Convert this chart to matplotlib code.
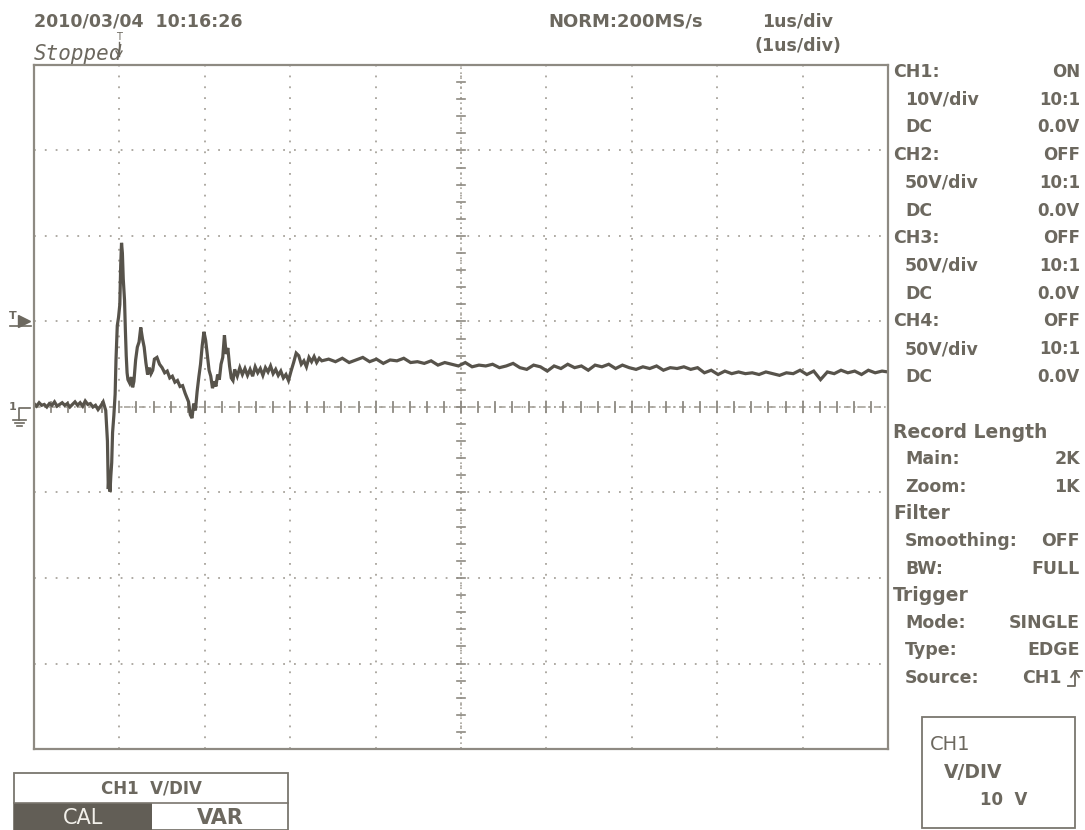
import numpy as np
import matplotlib
matplotlib.use("Agg")
from matplotlib import pyplot as plt
from matplotlib.lines import Line2D
from matplotlib.patches import Rectangle

# CH1 trace, time in us (1 us/div), voltage in V (10 V/div)
t_us = [0.00, 0.03, 0.06, 0.09, 0.12, 0.15, 0.18, 0.21, 0.24, 0.27, 0.30, 0.33, 0.36, 0.39, 0.42,
        0.45, 0.48, 0.51, 0.54, 0.57, 0.60, 0.63, 0.66, 0.69, 0.72, 0.75, 0.78, 0.81, 0.84,
        0.86, 0.87, 0.88, 0.89, 0.90, 0.91, 0.92, 0.935, 0.95, 0.96, 0.975, 0.99, 1.005, 1.015,
        1.025, 1.035, 1.045, 1.06, 1.07, 1.08, 1.09, 1.10, 1.12, 1.14, 1.155, 1.17, 1.19, 1.21,
        1.23, 1.25, 1.27, 1.29, 1.31, 1.33, 1.35, 1.37, 1.39, 1.41, 1.44, 1.47, 1.50, 1.53, 1.56,
        1.59, 1.62, 1.65, 1.68, 1.71, 1.74, 1.77, 1.79, 1.81, 1.83, 1.85, 1.87, 1.89, 1.91, 1.93,
        1.95, 1.97, 1.99, 2.01, 2.03, 2.05, 2.07, 2.09, 2.11, 2.13, 2.15, 2.17, 2.19, 2.21, 2.23,
        2.25, 2.27, 2.29, 2.31, 2.33, 2.35, 2.38, 2.41, 2.44, 2.47, 2.50, 2.53, 2.56, 2.59, 2.62,
        2.65, 2.68, 2.71, 2.74, 2.77, 2.80, 2.83, 2.86, 2.89, 2.92, 2.95, 2.98, 3.01, 3.04, 3.07,
        3.10, 3.13, 3.16, 3.19, 3.22, 3.25, 3.28, 3.31, 3.34, 3.37,
        3.45, 3.53, 3.61, 3.69, 3.77, 3.85, 3.93, 4.01, 4.09, 4.17, 4.25, 4.33, 4.41, 4.49, 4.57,
        4.65, 4.73, 4.81, 4.89, 4.97, 5.05, 5.13, 5.21, 5.29, 5.37, 5.45, 5.53, 5.61, 5.69, 5.77,
        5.85, 5.93, 6.01, 6.09, 6.17, 6.25, 6.33, 6.41, 6.49, 6.57, 6.65, 6.73, 6.81, 6.89, 6.97,
        7.05, 7.13, 7.21, 7.29, 7.37, 7.45, 7.53, 7.61, 7.69, 7.77, 7.85, 7.93, 8.01, 8.09, 8.17,
        8.25, 8.33, 8.41, 8.49, 8.57, 8.65, 8.73, 8.81, 8.89, 8.97, 9.05, 9.13, 9.21, 9.29, 9.37,
        9.45, 9.53, 9.61, 9.69, 9.77, 9.85, 9.93, 10.00]
ch1_v = [0.4, 0.1, 0.5, 0.2, 0.3, 0.0, 0.4, 0.2, 0.6, 0.1, 0.3, 0.5, 0.2, 0.4, 0.0,
         0.3, 0.6, 0.2, 0.5, 0.1, 0.7, 0.3, 0.4, 0.0, 0.2, -0.3, 0.1, 0.6, -0.4,
         -4.0, -9.6, -7.5, -9.9, -8.0, -6.5, -3.0, -1.0, 1.5, 5.5, 9.5, 10.5, 12.0, 16.5,
         19.2, 18.0, 15.0, 12.5, 9.0, 6.0, 4.0, 3.2, 2.8, 3.5, 2.3, 3.0, 5.5, 7.0,
         7.6, 9.3, 8.0, 7.0, 5.2, 3.8, 4.6, 3.9, 4.3, 5.6, 5.8, 5.0, 4.6, 4.0, 4.2,
         3.4, 3.6, 2.9, 3.1, 2.4, 2.5, 1.6, 1.1, 0.6, -0.9, -1.3, 0.4, -0.4, 1.8, 3.5,
         5.0, 7.2, 8.8, 7.8, 6.0, 4.3, 3.6, 2.2, 3.0, 2.4, 3.8, 3.2, 5.0, 5.8, 8.4,
         6.2, 6.9, 4.8, 3.4, 3.1, 4.4, 3.6, 4.6, 3.8, 4.5, 3.7, 4.4, 3.6, 4.7, 4.0,
         4.5, 3.7, 4.6, 4.1, 4.8, 3.9, 4.4, 3.7, 4.2, 3.4, 3.8, 3.1, 4.2, 5.2, 6.3,
         6.0, 5.0, 5.4, 4.7, 5.8, 5.3, 5.9, 5.2, 5.7, 5.4,
         5.6, 5.3, 5.7, 5.2, 5.5, 5.8, 5.3, 5.6, 5.1, 5.5, 5.4, 5.7, 5.2, 5.3, 5.1,
         5.4, 4.9, 5.2, 5.0, 4.8, 5.2, 4.7, 4.9, 4.8, 5.0, 4.6, 4.8, 5.1, 4.6, 4.4,
         4.9, 4.7, 4.2, 4.8, 4.5, 5.0, 4.6, 4.8, 4.3, 4.9, 4.7, 5.0, 4.5, 4.9, 4.6,
         4.4, 4.7, 4.5, 4.8, 4.3, 4.6, 4.5, 4.7, 4.4, 4.6, 4.0, 4.3, 3.8, 4.2, 3.9,
         4.1, 3.9, 4.0, 3.8, 4.1, 3.9, 3.7, 4.0, 3.9, 4.3, 3.8, 4.2, 3.2, 4.1, 3.9,
         4.3, 4.0, 4.2, 3.8, 4.3, 4.0, 4.2, 4.1]

trigger_level = 10.0
volts_per_div = 10
us_per_div = 1

header_left = "2010/03/04  10:16:26"
header_rate = "NORM:200MS/s"
header_tdiv = "1us/div"
header_tdiv2 = "(1us/div)"

ch_rows = [("CH1:", "ON", 0), ("10V/div", "10:1", 1), ("DC", "0.0V", 1),
           ("CH2:", "OFF", 0), ("50V/div", "10:1", 1), ("DC", "0.0V", 1),
           ("CH3:", "OFF", 0), ("50V/div", "10:1", 1), ("DC", "0.0V", 1),
           ("CH4:", "OFF", 0), ("50V/div", "10:1", 1), ("DC", "0.0V", 1)]
info_rows = [("Record Length", "", 0), ("Main:", "2K", 1), ("Zoom:", "1K", 1),
             ("Filter", "", 0), ("Smoothing:", "OFF", 1), ("BW:", "FULL", 1),
             ("Trigger", "", 0), ("Mode:", "SINGLE", 1), ("Type:", "EDGE", 1),
             ("Source:", "CH1", 1)]

W, H = 1085, 830
ink = "#6c685f"
trace_col = "#57534b"
grid_col = "#a8a49c"

fig = plt.figure(figsize=(W / 100, H / 100), dpi=100)
fig.patch.set_facecolor("white")


def ftext(x, y, s, **kw):
    # place text using pixel coordinates measured from the top-left corner
    kw.setdefault("color", ink)
    kw.setdefault("va", "center")
    return fig.text(x / W, 1 - y / H, s, **kw)


def fline(xs, ys, **kw):
    kw.setdefault("color", ink)
    fig.add_artist(Line2D([x / W for x in xs], [1 - y / H for y in ys],
                          transform=fig.transFigure, **kw))


ax = fig.add_axes([34 / W, 1 - 749 / H, 854 / W, 684 / H])
ax.set_xlim(0, 10 * us_per_div)
ax.set_ylim(-4 * volts_per_div, 4 * volts_per_div)
ax.set_xticks(np.arange(0, 11, us_per_div))
ax.set_yticks(np.arange(-40, 41, volts_per_div))
ax.tick_params(length=0, labelleft=False, labelbottom=False)
ax.grid(True, color=grid_col, linestyle=(0, (1, 5)), linewidth=1.3)
for sp in ax.spines.values():
    sp.set_color("#8e8a82")
    sp.set_linewidth(1.6)

# centre cross with fine ticks
ax.axvline(5, color=grid_col, linestyle=(0, (1, 2)), linewidth=1.2)
ax.axhline(0, color=grid_col, linestyle=(0, (4, 2, 1, 2)), linewidth=1.2)
for xt in np.arange(0, 10.01, 0.2):
    ax.plot([xt, xt], [-0.6, 0.6], color="#8e8a82", lw=1.3)
for yt in np.arange(-40, 40.1, 2):
    ax.plot([4.95, 5.05], [yt, yt], color="#8e8a82", lw=1.2)

ax.plot(t_us, ch1_v, color=trace_col, lw=2.3, solid_joinstyle="miter")

# trigger level and ground markers on the left edge
ax.plot([-0.12], [trigger_level], marker=">", ms=8, color=ink, clip_on=False)
ax.plot([-0.28, -0.04], [trigger_level - 0.5] * 2, color=ink, lw=1.2, clip_on=False)
ax.text(-0.25, trigger_level + 0.6, "T", color=ink, fontsize=8, fontweight="bold",
        ha="center", va="center", clip_on=False)
ax.text(-0.25, 0, "1", color=ink, fontsize=8, fontweight="bold", ha="center",
        va="center", clip_on=False)

fline([19, 19, 30], [420, 408, 408], lw=1.2)
fline([13, 26], [420, 420], lw=1.2)
fline([15, 24], [423, 423], lw=1.2)
fline([17, 22], [426, 426], lw=1.2)

# header
ftext(34, 22, header_left, fontsize=12.5, fontweight="bold")
ftext(34, 54, "Stopped", fontsize=15, family="DejaVu Sans Mono", style="italic")
# trigger position marker above the grid
ftext(119, 37, "T", fontsize=7, ha="center")
fline([119, 119], [42, 56], lw=1.0)
fline([116, 119, 122], [51, 56, 51], lw=1.0)
ftext(548, 22, header_rate, fontsize=13, fontweight="bold")
ftext(798, 22, header_tdiv, fontsize=12.5, fontweight="bold", ha="center")
ftext(798, 46, header_tdiv2, fontsize=12.5, fontweight="bold", ha="center")

# right panel
y = 72
for label, value, indent in ch_rows:
    ftext(893 + 12 * indent, y, label, fontsize=12.5, fontweight="bold")
    ftext(1080, y, value, fontsize=12, fontweight="bold", ha="right")
    y += 27.7
y = 432
for label, value, indent in info_rows:
    ftext(893 + 12 * indent, y, label, fontsize=13.5 if indent == 0 else 12.5,
          fontweight="bold")
    if value:
        ftext(1062 if label == "Source:" else 1080, y, value, fontsize=12.5,
              fontweight="bold", ha="right")
    y += 27.3
# rising edge glyph
fline([1068, 1075, 1075, 1082], [686, 686, 671, 671], lw=1.3)
fline([1071, 1075, 1079], [677, 671, 677], lw=1.3)

# bottom right box
fig.add_artist(Rectangle((922 / W, 1 - 828 / H), 153 / W, 111 / H,
                         transform=fig.transFigure, fill=False, ec="#7a766e", lw=1.3))
ftext(930, 745, "CH1", fontsize=14)
ftext(944, 772, "V/DIV", fontsize=13.5, fontweight="bold")
ftext(980, 800, "10  V", fontsize=12, fontweight="bold")

# bottom left box
fig.add_artist(Rectangle((14 / W, 0), 274 / W, 57 / H, transform=fig.transFigure,
                         fill=False, ec="#7a766e", lw=1.3))
fig.add_artist(Rectangle((14 / W, 0), 138 / W, 27 / H, transform=fig.transFigure,
                         fc="#625e56", ec="none"))
fline([14, 288], [803, 803], color="#7a766e", lw=1.2)
ftext(151, 788, "CH1  V/DIV", fontsize=12, fontweight="bold", ha="center")
ftext(83, 818, "CAL", fontsize=15, color="#f2f0ea", ha="center")
ftext(220, 818, "VAR", fontsize=15, fontweight="bold", ha="center")

fig.savefig("out.png", dpi=100)
